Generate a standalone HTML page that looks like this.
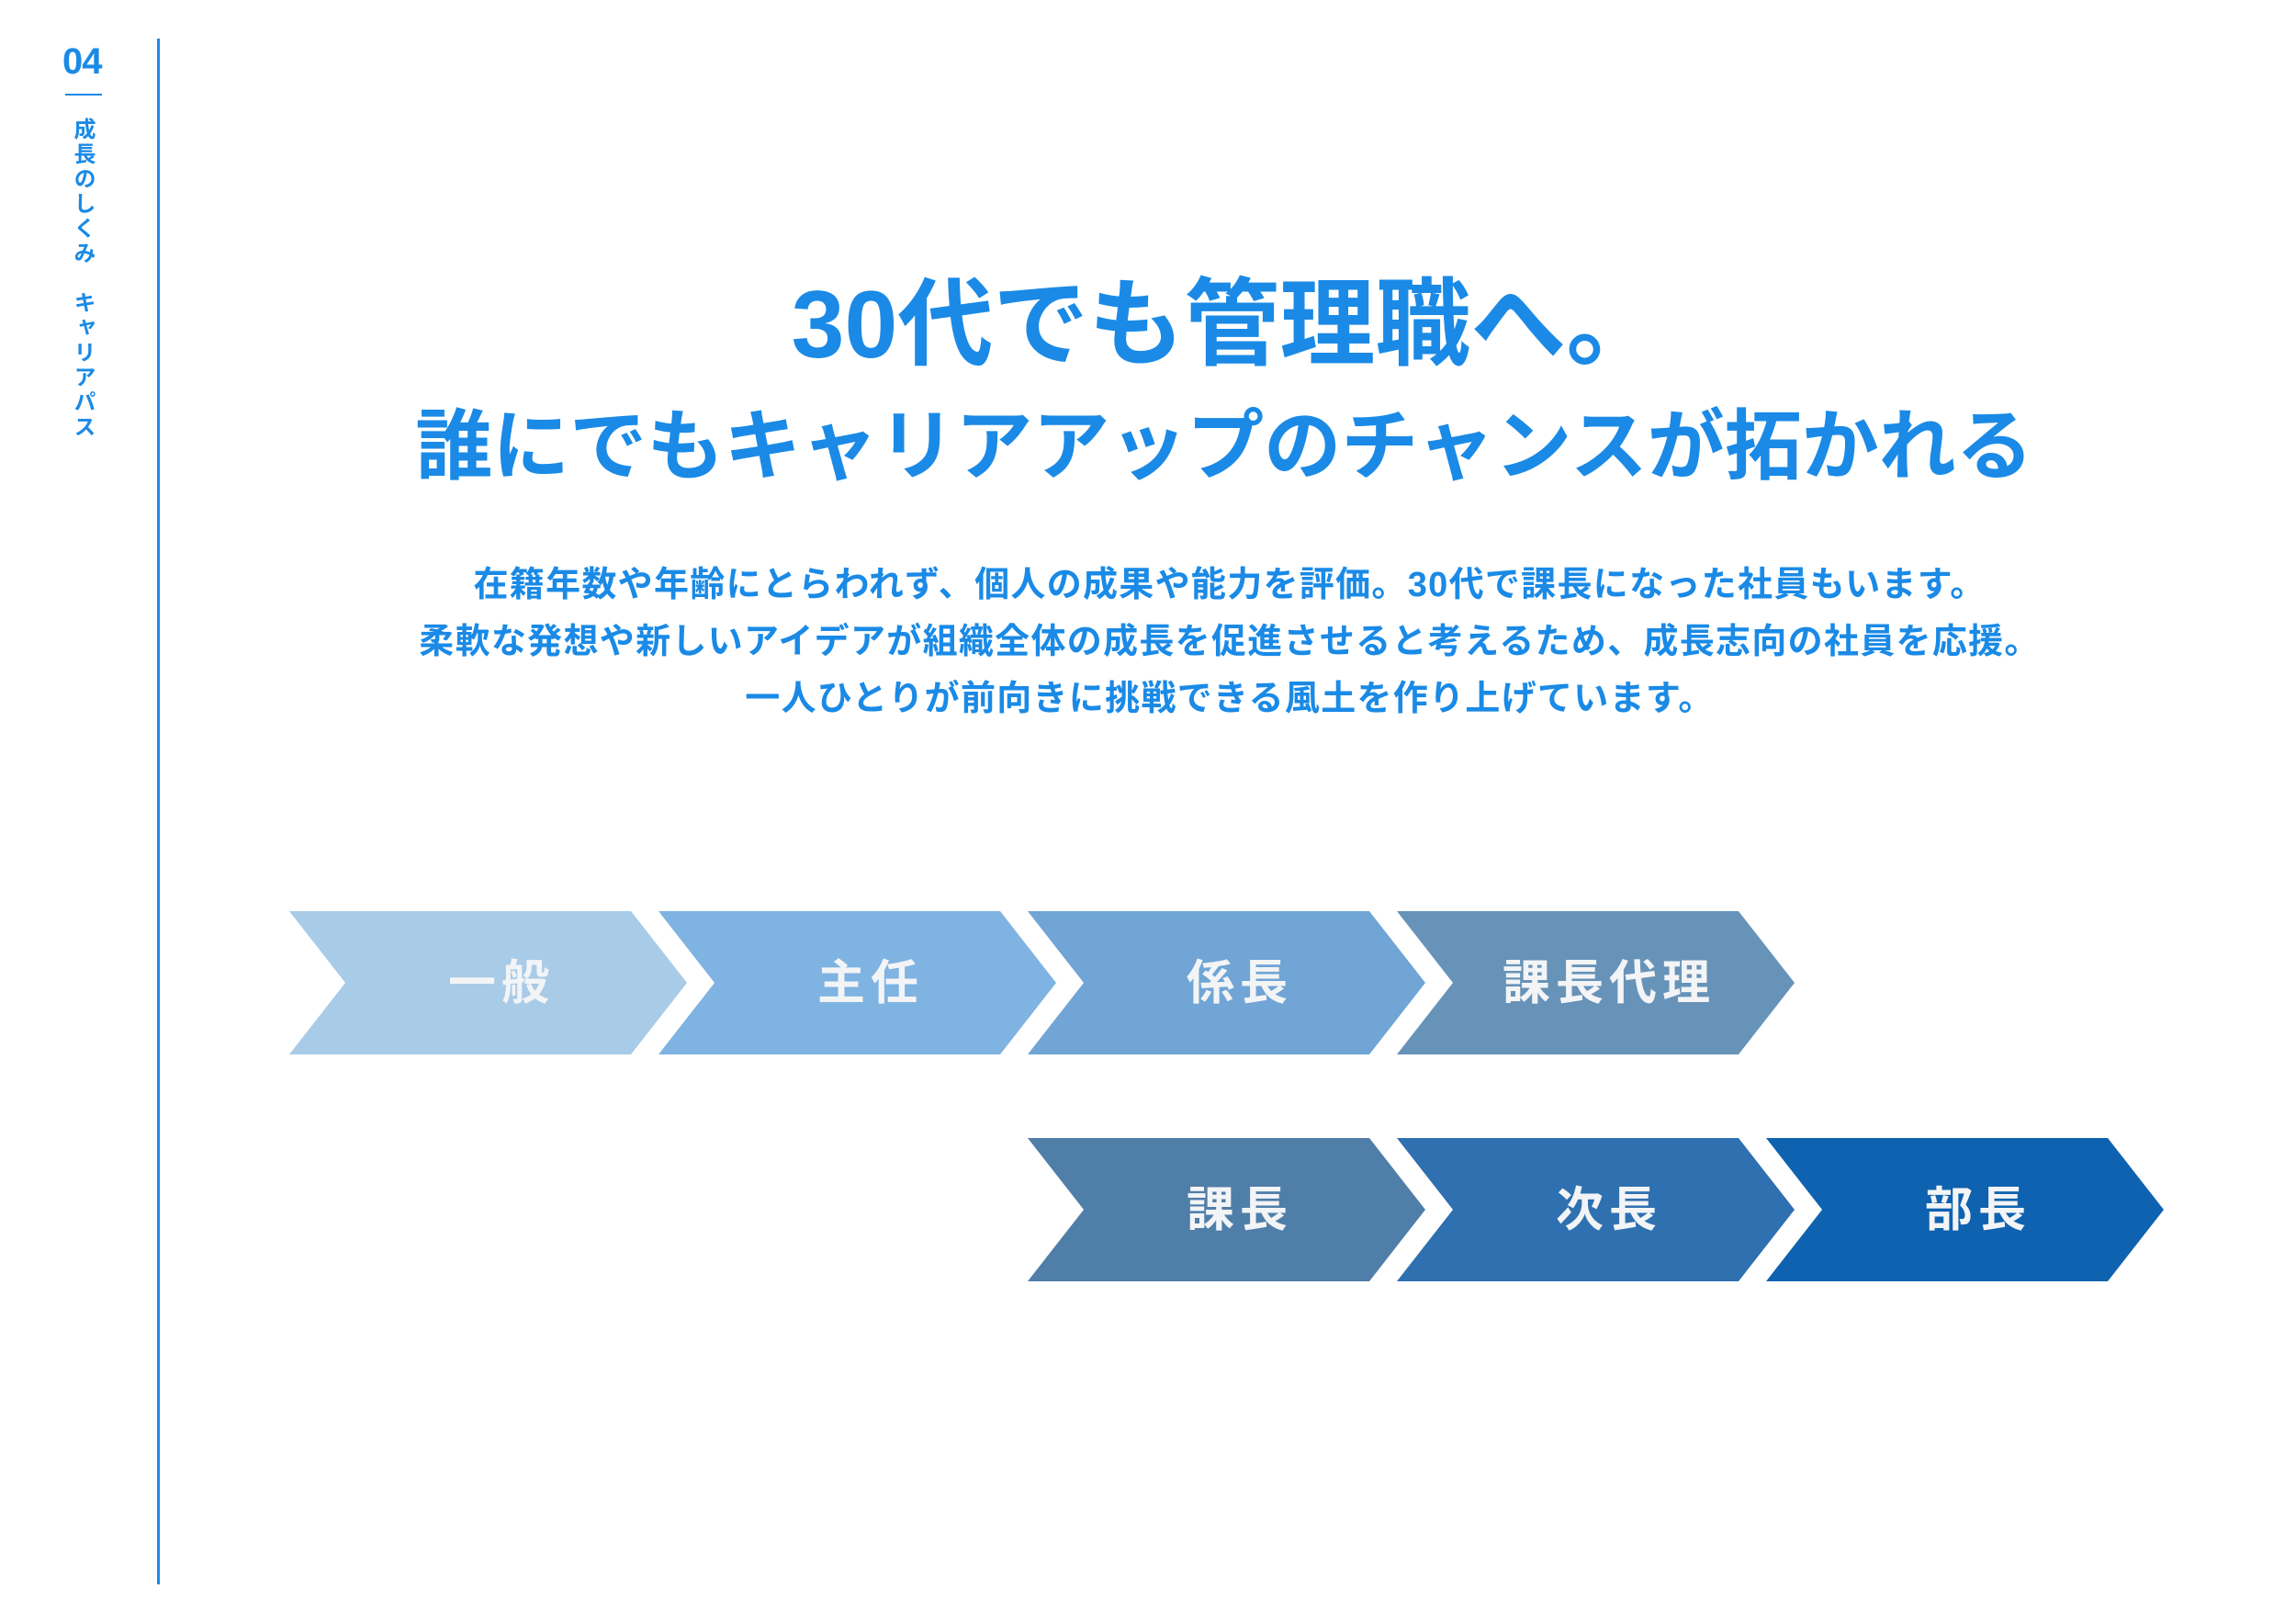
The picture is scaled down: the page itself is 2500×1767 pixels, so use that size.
<!DOCTYPE html>
<html><head><meta charset="utf-8"><style>
html,body{margin:0;padding:0;background:#fff;}
body{width:2500px;height:1767px;position:relative;overflow:hidden;font-family:"Liberation Sans","Noto Sans CJK JP",sans-serif;}
.t{position:absolute;left:0;width:2500px;text-align:center;color:#1a8ae6;font-weight:bold;white-space:nowrap;}
</style></head><body>
<div style="position:absolute;left:68px;top:45px;font-size:40px;font-weight:bold;color:#1a8ae6;letter-spacing:-1px;">04</div>
<div style="position:absolute;left:71px;top:102px;width:40px;height:2px;background:#1a8ae6;"></div>
<div style="position:absolute;left:72px;top:128px;writing-mode:vertical-rl;font-size:24px;font-weight:bold;color:#1a8ae6;letter-spacing:3px;">成長のしくみ　キャリアパス</div>
<div style="position:absolute;left:171px;top:42px;width:3px;height:1683px;background:#1a8ae6;"></div>

<div class="t" style="top:292px;font-size:104px;line-height:124px;padding-left:171px;box-sizing:border-box;">30代でも管理職へ。</div>
<div class="t" style="top:436px;font-size:84px;line-height:100px;padding-left:166px;box-sizing:border-box;">誰にでもキャリアアップのチャンスが拓かれる</div>
<div class="t" style="top:606px;font-size:38px;line-height:62px;padding-left:178px;box-sizing:border-box;letter-spacing:1.3px;">在籍年数や年齢にとらわれず、個人の成果や能力を評価。30代で課長になった社員もいます。<br>柔軟な発想や新しいアイデアが組織全体の成長を促進させると考えるため、成長志向の社員を応援。<br>一人ひとりが前向きに挑戦できる風土を作り上げています。</div>

<svg width="2500" height="1767" style="position:absolute;left:0;top:0;" xmlns="http://www.w3.org/2000/svg">
<defs><path id="c" d="M0 0 H372 L433 78 L372 156 H0 L61 78 Z"/></defs>
<g font-family="Liberation Sans, Noto Sans CJK JP, sans-serif" font-weight="bold" font-size="52" fill="#f3f4f6" text-anchor="middle" letter-spacing="6">
<g transform="translate(315,992)"><use href="#c" fill="#a8cbe8"/><text x="231" y="96">一般</text></g>
<g transform="translate(717,992)"><use href="#c" fill="#7fb3e2"/><text x="231" y="96">主任</text></g>
<g transform="translate(1119,992)"><use href="#c" fill="#70a5d5"/><text x="231" y="96">係長</text></g>
<g transform="translate(1521,992)"><use href="#c" fill="#6793b9"/><text x="231" y="96">課長代理</text></g>
<g transform="translate(1119,1239)"><use href="#c" fill="#4f7ea9"/><text x="231" y="96">課長</text></g>
<g transform="translate(1521,1239)"><use href="#c" fill="#2f70b0"/><text x="231" y="96">次長</text></g>
<g transform="translate(1923,1239)"><use href="#c" fill="#0e62b0"/><text x="231" y="96">部長</text></g>
</g>
</svg>
</body></html>
